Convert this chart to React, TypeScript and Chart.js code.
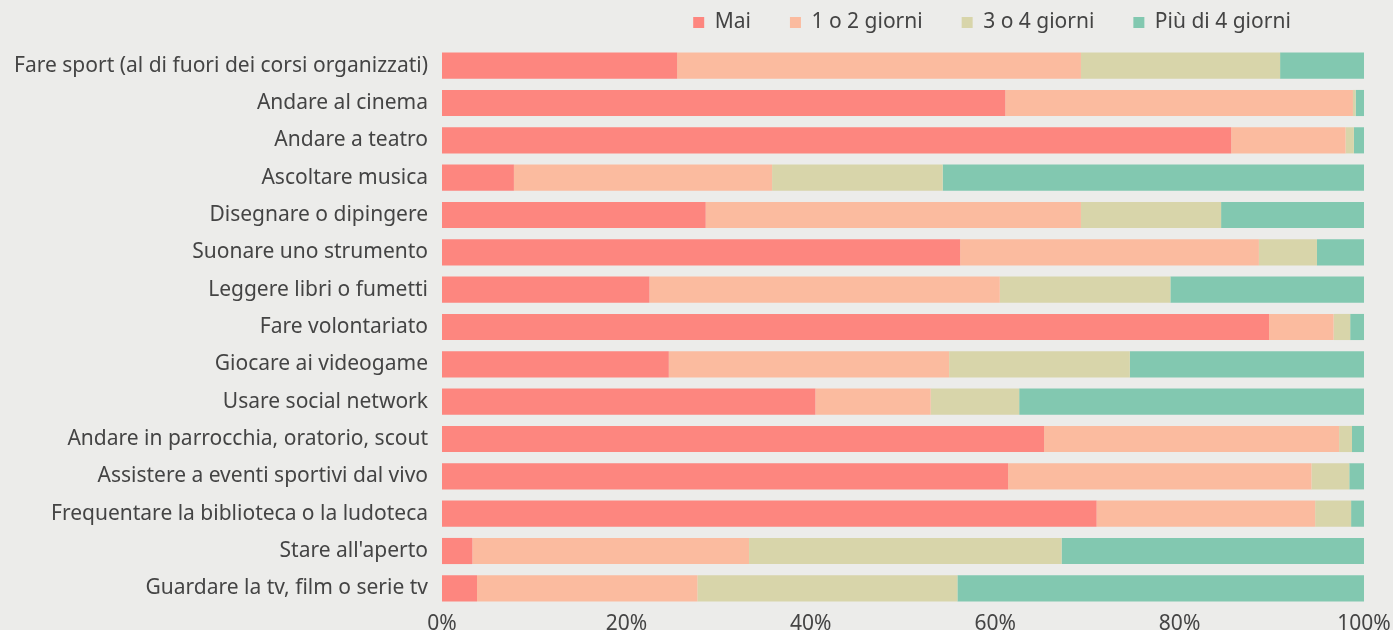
import React, { useEffect, useRef } from "react";
import { Chart, registerables } from "chart.js";

Chart.register(...registerables);

const categories = [
  "Fare sport (al di fuori dei corsi organizzati)",
  "Andare al cinema",
  "Andare a teatro",
  "Ascoltare musica",
  "Disegnare o dipingere",
  "Suonare uno strumento",
  "Leggere libri o fumetti",
  "Fare volontariato",
  "Giocare ai videogame",
  "Usare social network",
  "Andare in parrocchia, oratorio, scout",
  "Assistere a eventi sportivi dal vivo",
  "Frequentare la biblioteca o la ludoteca",
  "Stare all'aperto",
  "Guardare la tv, film o serie tv",
];

const seriesNames = ["Mai", "1 o 2 giorni", "3 o 4 giorni", "Più di 4 giorni"];

const mai = [25.5, 61.1, 85.6, 7.8, 28.6, 56.2, 22.5, 89.7, 24.6, 40.5, 65.3, 61.4, 71.0, 3.3, 3.8];
const unoDue = [43.8, 37.7, 12.4, 28.0, 40.7, 32.4, 38.0, 7.0, 30.4, 12.5, 32.0, 32.9, 23.7, 30.0, 23.9];
const treQuattro = [21.6, 0.3, 0.9, 18.5, 15.2, 6.3, 18.5, 1.8, 19.6, 9.6, 1.4, 4.1, 3.9, 33.9, 28.2];
const piuDiQuattro = [9.1, 0.9, 1.1, 45.7, 15.5, 5.1, 21.0, 1.5, 25.4, 37.4, 1.3, 1.6, 1.4, 32.8, 44.1];

const xTicks = [0, 20, 40, 60, 80, 100];

const colors = ["#fd867f", "#fbbb9f", "#d8d5aa", "#82c8b0"];

const FONT = { family: "'Noto Sans'", size: 21 };
const TEXT = "#444444";

const layoutFix = {
  id: "layoutFix",
  beforeLayout(chart: any) {
    const lg = chart.legend;
    if (lg && !lg._patched) {
      const orig = lg.fit.bind(lg);
      lg.fit = function () {
        orig();
        this.height = 47;
      };
      lg._patched = true;
    }
  },
  afterLayout(chart: any) {
    const lg = chart.legend;
    if (lg) {
      lg.left += 310;
      lg.right += 310;
      lg.top -= 27;
    }
  },
};

export default function App() {
  const ref = useRef<HTMLCanvasElement | null>(null);
  useEffect(() => {
    document.body.style.margin = "0";
    const values = [mai, unoDue, treQuattro, piuDiQuattro];
    const chart = new Chart(ref.current as HTMLCanvasElement, {
      type: "bar",
      data: {
        labels: categories,
        datasets: seriesNames.map((name, i) => ({
          label: name,
          data: values[i],
          backgroundColor: colors[i],
          borderWidth: 0,
          categoryPercentage: 1,
          barPercentage: 0.7,
        })),
      },
      options: {
        animation: false,
        responsive: true,
        maintainAspectRatio: false,
        indexAxis: "y",
        layout: { padding: { top: 0, right: 29, left: 0, bottom: 0 } },
        plugins: {
          legend: {
            display: true,
            position: "top",
            align: "center",
            labels: {
              boxWidth: 11,
              boxHeight: 11,
              padding: 39,
              color: TEXT,
              font: FONT,
            },
          },
          tooltip: { enabled: false },
        },
        scales: {
          x: {
            stacked: true,
            min: 0,
            max: 100,
            afterBuildTicks: (scale: any) => {
              scale.ticks = xTicks.map((v) => ({ value: v }));
            },
            afterFit: (scale: any) => {
              scale.height = 23;
              scale.paddingLeft = 0;
              scale.paddingRight = 0;
            },
            grid: { display: false, drawTicks: false, tickLength: 0 },
            border: { display: false },
            ticks: {
              padding: 4,
              color: TEXT,
              font: FONT,
              callback: (v: any) => v + "%",
              maxRotation: 0,
            },
          },
          y: {
            stacked: true,
            afterFit: (scale: any) => {
              scale.width = 442;
              scale.paddingTop = 0;
              scale.paddingBottom = 0;
            },
            grid: { display: false, drawTicks: false, tickLength: 0 },
            border: { display: false },
            ticks: {
              padding: 14,
              color: TEXT,
              font: FONT,
              autoSkip: false,
            },
          },
        },
      },
      plugins: [layoutFix],
    });
    return () => chart.destroy();
  }, []);
  return (
    <div style={{ position: "fixed", left: 0, top: 0, width: 1393, height: 630, background: "#ececea" }}>
      <canvas ref={ref} />
    </div>
  );
}
